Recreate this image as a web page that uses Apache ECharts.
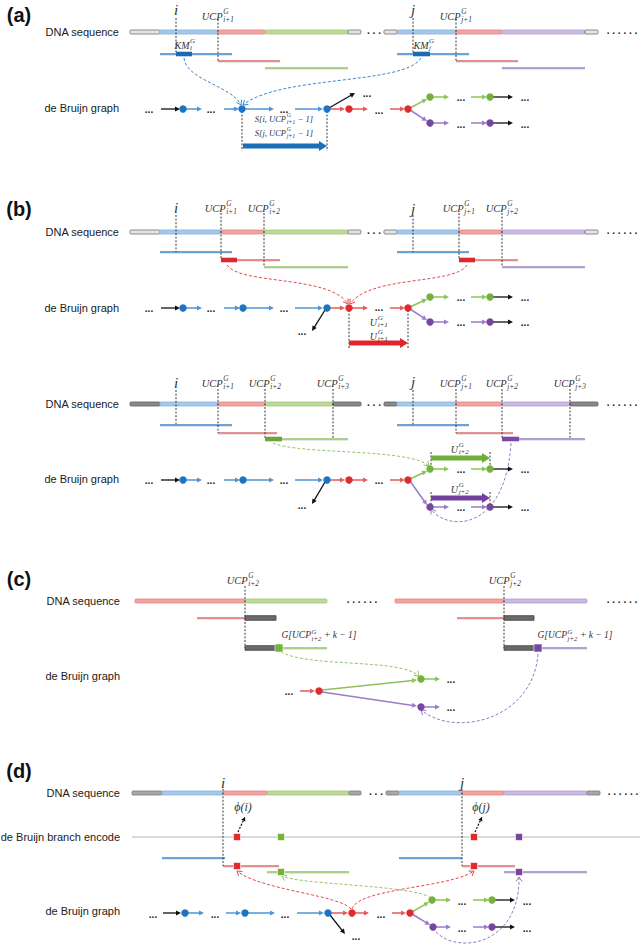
<!DOCTYPE html>
<html><head><meta charset="utf-8">
<script src="https://cdn.jsdelivr.net/npm/echarts@6/dist/echarts.min.js"></script>
<style>html,body{margin:0;padding:0;background:#fff}#c{width:643px;height:946px}</style>
</head><body><div id="c"></div><script>
// ================= DATA (diagram units) =================
const panelLabels = [['(a)',19,15],['(b)',19,209],['(c)',19,579],['(d)',19,771]];
const rowLabels = [
 ['DNA sequence',119,32],['de Bruijn graph',119,108],
 ['DNA sequence',119,232],['de Bruijn graph',119,308],
 ['DNA sequence',119,404],['de Bruijn graph',119,479],
 ['DNA sequence',120,601],['de Bruijn graph',120,676],
 ['DNA sequence',120,793],['de Bruijn branch encode',120,837],['de Bruijn graph',120,911]
];
const posLetters = [['i',176,10],['j',413,10],['i',176,208],['j',413,209],['i',176,383],['j',413,382],['i',223,783],['j',462,783]];
const ucpLabels = [
 ['UCP^{G}_{i+1}',218,16],['UCP^{G}_{j+1}',456,16],
 ['UCP^{G}_{i+1}',221,208],['UCP^{G}_{i+2}',264,208],['UCP^{G}_{j+1}',459,208],['UCP^{G}_{j+2}',502,208],
 ['UCP^{G}_{i+1}',218,383],['UCP^{G}_{i+2}',265,383],['UCP^{G}_{i+3}',333,383],['UCP^{G}_{j+1}',456,383],['UCP^{G}_{j+2}',502,383],['UCP^{G}_{j+3}',570,383],
 ['UCP^{G}_{i+2}',243,580],['UCP^{G}_{j+2}',505,580]
];
const mathLabels = [
 ['KM^{G}_{i}',185,45,10],['KM^{G}_{j}',424,45,10],
 ['S[i, UCP^{G}_{i+1} − 1]',284,119,8.5],['S[j, UCP^{G}_{j+1} − 1]',284,133,8.5],
 ['U^{G}_{i+1}',379,322,10],['U^{G}_{j+1}',379,336,10],
 ['U^{G}_{i+2}',460,449,10],['U^{G}_{j+2}',460,489,10],
 ['G[UCP^{G}_{i+2} + k − 1]',319,635,9.5],['G[UCP^{G}_{j+2} + k − 1]',575,635,9.5],
 ['ϕ(i)',243,807,12],['ϕ(j)',481,807,12]
];
const dnaSegs = [
 [130,160,32,'gray'],[160,218,32,'blue'],[218,265,32,'red'],[265,348,32,'green'],[348,361,32,'gray'],
 [384,397,32,'gray'],[397,456,32,'blue'],[456,502,32,'red'],[502,585,32,'purple'],[585,598,32,'gray'],
 [130,160,232,'gray'],[160,221,232,'blue'],[221,264,232,'red'],[264,348,232,'green'],[348,361,232,'gray'],
 [384,397,232,'gray'],[397,459,232,'blue'],[459,502,232,'red'],[502,585,232,'purple'],[585,598,232,'gray'],
 [130,160,404,'grayD'],[160,218,404,'blue'],[218,265,404,'red'],[265,333,404,'green'],[333,361,404,'grayD'],
 [384,397,404,'grayD'],[397,456,404,'blue'],[456,502,404,'red'],[502,570,404,'purple'],[570,598,404,'grayD'],
 [135,245,601,'red'],[245,327,601,'green'],[395,504,601,'red'],[504,587,601,'purple'],
 [132,162,793,'grayM'],[162,223,793,'blue'],[223,267,793,'red'],[267,349,793,'green'],[349,361,793,'grayM'],
 [386,399,793,'grayM'],[399,462,793,'blue'],[462,504,793,'red'],[504,587,793,'purple'],[587,600,793,'grayM']
];
const gapDots = [[374,33,'. . .'],[622,33,'. . . . . .'],[374,233,'. . .'],[622,233,'. . . . . .'],
 [374,405,'. . .'],[622,405,'. . . . . .'],[362,602,'. . . . . .'],[622,602,'. . . . . .'],
 [376,794,'. . .'],[623,794,'. . . . . .']];
const graphDots = [
 [149,112],[211,112],[284,112],[367,96],[379,113],[461,100],[525,100],[461,127],[525,127],
 [149,311],[211,311],[284,311],[302,334],[379,310],[461,300],[525,300],[461,325],[525,325],
 [149,483],[211,483],[284,483],[302,508],[379,483],[461,472],[525,472],[461,510],[525,510],
 [289,694],[451,682],[451,710],
 [153,917],[215,917],[285,917],[356,939],[381,917],[462,904],[527,904],[462,931],[527,931]
];
const reads = [
 [160,232,54,'blue'],[218,280,61,'red'],[265,348,68,'green'],[397,469,54,'blue'],[456,518,61,'red'],[502,585,68,'purple'],
 [160,232,252,'blue'],[221,280,260,'red'],[264,348,267,'green'],[397,469,252,'blue'],[459,518,260,'red'],[502,585,267,'purple'],
 [160,232,425,'blue'],[218,277,433,'red'],[265,348,439,'green'],[397,469,425,'blue'],[456,513,433,'red'],[502,585,439,'purple'],
 [197,245,618,'red'],[279,327,648,'green'],[457,504,618,'red'],[538,587,648,'purple'],
 [162,225,858,'blue'],[223,279,866,'red'],[267,349,872,'green'],[399,462,858,'blue'],[462,515,866,'red'],[504,587,872,'purple']
];
const kmerSegs = [
 [176,192,54,'blue'],[413,430,54,'blue'],
 [221,237,260,'red'],[459,475,260,'red'],
 [265,282,439,'green'],[502,519,439,'purple'],
 [245,276,618,'gray'],[245,277,648,'gray'],[504,534,618,'gray'],[504,538,648,'gray']
];
const guideLines = [
 [176,18,54],[218,19,61],[413,18,54],[456,19,61],[242,111,151],[327,111,151],
 [176,215,252],[221,213,260],[264,213,267],[413,215,252],[459,213,260],[502,213,267],[349,310,348],[408,310,348],
 [176,390,425],[218,389,433],[265,389,439],[333,389,439],[413,390,425],[456,389,433],[502,389,439],[570,389,439],
 [431,452,469],[490,452,469],[431,492,507],[490,492,507],
 [245,586,648],[504,586,648],
 [223,789,866],[462,789,866]
];
const edges = [
 [161,109,180,109,'black'],[186,109,202,109,'blue'],[224,109,239,109,'blue'],[245,109,274,109,'blue'],[295,109,323,109,'blue'],
 [329,108,355,93,'black'],[330,109,345,109,'red'],[352,109,368,109,'red'],[390,109,405,109,'red'],
 [410,108,427,99,'green'],[433,97,449,97,'green'],[471,97,487,97,'green'],[492,97,513,97,'black'],
 [410,110,427,121,'purple'],[433,123,449,123,'purple'],[471,123,487,123,'purple'],[492,123,513,123,'black'],
 [161,308,180,308,'black'],[186,308,202,308,'blue'],[224,308,240,308,'blue'],[246,308,274,308,'blue'],[295,308,323,308,'blue'],
 [325,310,312,331,'black'],[330,308,345,308,'red'],[352,308,368,308,'red'],[390,308,405,308,'red'],
 [410,307,427,299,'green'],[433,297,449,297,'green'],[471,297,487,297,'green'],[492,297,513,297,'black'],
 [410,309,427,320,'purple'],[433,322,449,322,'purple'],[471,322,487,322,'purple'],[492,322,513,322,'black'],
 [161,480,180,480,'black'],[186,480,202,480,'blue'],[224,480,240,480,'blue'],[246,480,274,480,'blue'],[295,480,323,480,'blue'],
 [325,482,312,504,'black'],[330,480,345,480,'red'],[352,480,368,480,'red'],[390,480,405,480,'red'],
 [410,479,427,471,'green'],[433,469,449,469,'green'],[471,469,487,469,'green'],[492,469,513,469,'black'],
 [410,481,427,505,'purple'],[433,507,449,507,'purple'],[471,507,487,507,'purple'],[492,507,513,507,'black'],
 [300,691,315,691,'red'],[322,690,417,680,'green'],[424,679,440,679,'green'],[322,692,417,706,'purple'],[424,707,440,707,'purple'],
 [163,913,181,913,'black'],[188,913,204,913,'blue'],[226,913,241,913,'blue'],[248,913,275,913,'blue'],[297,913,324,913,'blue'],
 [330,915,345,934,'black'],[331,913,348,913,'red'],[355,913,369,913,'red'],[392,913,406,913,'red'],
 [412,912,429,902,'green'],[435,900,451,900,'green'],[473,900,489,900,'green'],[494,900,515,900,'black'],
 [412,914,430,925,'purple'],[436,927,451,927,'purple'],[473,927,489,927,'purple'],[494,927,515,927,'black']
];
const nodes = [
 [183,109,'blue'],[242,109,'blue'],[327,109,'blue'],[349,109,'red'],[408,109,'red'],[430,97,'green'],[490,97,'green'],[430,123,'purple'],[490,123,'purple'],
 [183,308,'blue'],[243,308,'blue'],[327,308,'blue'],[349,308,'red'],[408,308,'red'],[430,297,'green'],[490,297,'green'],[430,322,'purple'],[490,322,'purple'],
 [183,480,'blue'],[243,480,'blue'],[327,480,'blue'],[349,480,'red'],[408,480,'red'],[430,469,'green'],[490,469,'green'],[430,507,'purple'],[490,507,'purple'],
 [319,691,'red'],[421,679,'green'],[421,707,'purple'],
 [185,913,'blue'],[245,913,'blue'],[328,913,'blue'],[352,913,'red'],[410,913,'red'],[432,900,'green'],[492,900,'green'],[433,927,'purple'],[492,927,'purple']
];
const pathArrows = [[243,327,146,'blue'],[349,408,343,'red'],[431,490,458,'green'],[431,490,498,'purple']];
const links = [
 [184,58,186,80,232,86,241,105,'blue'],[421,58,405,85,280,75,243,105,'blue'],
 [227,265,240,285,330,275,348,304,'red'],[467,265,455,285,370,275,350,304,'red'],
 [273,443,300,455,410,448,429,466,'green'],[511,443,505,535,445,530,431,509,'purple'],
 [281,652,310,668,400,658,419,676,'green'],[538,654,533,720,455,738,421,710,'purple'],
 [351,909,340,895,260,890,237,871,'red'],[352,909,358,888,450,888,474,871,'red'],
 [431,898,415,885,300,885,282,876,'green'],[433,928,450,955,520,950,519,877,'purple']
];
const squares = [
 [279,648,'green',8],[538,648,'purple',8],
 [237,837,'red',7],[281,837,'green',7],[474,837,'red',7],[519,837,'purple',7],
 [237,866,'red',7],[281,872,'green',7],[474,866,'red',7],[519,872,'purple',7]
];
const phiPointers = [[238,832,245,817],[475,832,482,817]];
const encodeTrack = [[132,640,837]];

// ================= STYLE =================
const SANS='"Liberation Sans", Arial, sans-serif';
const SERIF='"Liberation Serif","DejaVu Serif",serif';
const DNA_FILL={gray:'#e4e4e4',grayD:'#8a8a8a',grayM:'#a8a8a8',blue:'#a7c8ea',red:'#f0a4a4',green:'#bcd99a',purple:'#cbbbe0'};
const DNA_EDGE={gray:'#6e6e6e',grayD:'#5e5e5e',grayM:'#7a7a7a',blue:'#86b1dc',red:'#e68080',green:'#a3c87a',purple:'#b19dd0'};
const READ={blue:'#3f86cc',red:'#e26a6a',green:'#94c266',purple:'#9a80c6'};
const KMER={blue:'#1d6ab3',red:'#da2a2e',green:'#6ba53a',purple:'#7a4aa3',gray:'#6a6a6a'};
const NODE={blue:'#1c74c2',red:'#df2a2e',green:'#74b23a',purple:'#77479f'};
const EDGE={blue:'#4e94d6',red:'#e45a5c',green:'#8cc25a',purple:'#9a7cc8',black:'#111111'};
const LINK={blue:'#3b88d2',red:'#e2474c',green:'#93c463',purple:'#9678c4'};
const BIG={blue:'#1b6fba',red:'#e0262a',green:'#6fae3a',purple:'#74409f'};

const meas=document.createElement('canvas').getContext('2d');
function tw(t,f){meas.font=f;return meas.measureText(t).width;}
function txt(t,x,y,font,align,fill){return {type:'text',style:{text:t,x:x,y:y,font:font,align:align||'left',verticalAlign:'middle',fill:fill||'#2a2a2a'}};}
function mathParts(s){const re=/\^\{([^}]*)\}_\{([^}]*)\}/g;const out=[];let last=0,m;
 while((m=re.exec(s))){if(m.index>last)out.push({t:s.slice(last,m.index)});out.push({sup:m[1],sub:m[2]});last=re.lastIndex;}
 if(last<s.length)out.push({t:s.slice(last)});return out;}
function mathGroup(str,cx,cy,size,api){
 const p=api.coord([cx,cy]);const parts=mathParts(str);
 const fm='italic '+size+'px '+SERIF, fs='italic '+(size*0.7).toFixed(1)+'px '+SERIF;
 const w=parts.map(q=>q.t!=null?tw(q.t,fm):Math.max(tw(q.sup,fs),tw(q.sub,fs))+1);
 let x=p[0]-w.reduce((a,b)=>a+b,0)/2;const kids=[];
 parts.forEach((q,k)=>{
  if(q.t!=null)kids.push(txt(q.t,x,p[1],fm,'left','#333'));
  else{kids.push(txt(q.sup,x+0.6,p[1]-size*0.42,fs,'left','#333'));kids.push(txt(q.sub,x+0.6,p[1]+size*0.34,fs,'left','#333'));}
  x+=w[k];});
 return {type:'group',children:kids};
}
function head(tip,from,len,wid,color){
 const dx=tip[0]-from[0],dy=tip[1]-from[1],L=Math.hypot(dx,dy)||1,ux=dx/L,uy=dy/L;
 const bx=tip[0]-ux*len,by=tip[1]-uy*len;
 return {type:'polygon',shape:{points:[tip,[bx-uy*wid/2,by+ux*wid/2],[bx+uy*wid/2,by-ux*wid/2]]},style:{fill:color}};
}
function chevron(tip,from,len,wid,color){
 const dx=tip[0]-from[0],dy=tip[1]-from[1],L=Math.hypot(dx,dy)||1,ux=dx/L,uy=dy/L;
 const bx=tip[0]-ux*len,by=tip[1]-uy*len;
 return {type:'polyline',shape:{points:[[bx-uy*wid/2,by+ux*wid/2],tip,[bx+uy*wid/2,by-ux*wid/2]]},style:{stroke:color,lineWidth:1,fill:null}};
}
function cs(arr,xy,fn){return {type:'custom',coordinateSystem:'cartesian2d',clip:false,silent:true,animation:false,
 data:arr.map(xy),renderItem:(params,api)=>fn(arr[params.dataIndex],api)};}

const series=[
 cs(encodeTrack,d=>[d[0],d[2]],(d,api)=>{const a=api.coord([d[0],d[2]]),b=api.coord([d[1],d[2]]);
   return {type:'line',shape:{x1:a[0],y1:a[1],x2:b[0],y2:b[1]},style:{stroke:'#cfcfcf',lineWidth:1.3}};}),
 cs(dnaSegs,d=>[d[0],d[2]],(d,api)=>{const a=api.coord([d[0],d[2]]),b=api.coord([d[1],d[2]]);
   return {type:'rect',shape:{x:a[0],y:a[1]-2,width:b[0]-a[0],height:4,r:1},style:{fill:DNA_FILL[d[3]],stroke:DNA_EDGE[d[3]],lineWidth:0.8}};}),
 cs(reads,d=>[d[0],d[2]],(d,api)=>{const a=api.coord([d[0],d[2]]),b=api.coord([d[1],d[2]]);
   return {type:'group',children:[
    {type:'line',shape:{x1:a[0],y1:a[1]+1.2,x2:b[0],y2:b[1]+1.2},style:{stroke:'#e6e6e6',lineWidth:1.4}},
    {type:'line',shape:{x1:a[0],y1:a[1],x2:b[0],y2:b[1]},style:{stroke:READ[d[3]],lineWidth:1.5}}]};}),
 cs(guideLines,d=>[d[0],d[1]],(d,api)=>{const a=api.coord([d[0],d[1]]),b=api.coord([d[0],d[2]]);
   return {type:'line',shape:{x1:a[0],y1:a[1],x2:b[0],y2:b[1]},style:{stroke:'#222',lineWidth:0.9,lineDash:[2,1.6]}};}),
 cs(kmerSegs,d=>[d[0],d[2]],(d,api)=>{const a=api.coord([d[0],d[2]]),b=api.coord([d[1],d[2]]);
   return {type:'rect',shape:{x:a[0],y:a[1]-2.3,width:b[0]-a[0],height:4.6},style:{fill:KMER[d[3]],stroke:d[3]==='gray'?'#3f3f3f':null,lineWidth:0.8}};}),
 cs(links,d=>[d[0],d[1]],(d,api)=>{const p0=api.coord([d[0],d[1]]),c1=api.coord([d[2],d[3]]),c2=api.coord([d[4],d[5]]),p3=api.coord([d[6],d[7]]);
   const col=LINK[d[8]];
   return {type:'group',children:[
    {type:'bezierCurve',shape:{x1:p0[0],y1:p0[1],cpx1:c1[0],cpy1:c1[1],cpx2:c2[0],cpy2:c2[1],x2:p3[0],y2:p3[1]},style:{stroke:col,lineWidth:1,lineDash:[3,2],fill:null}},
    chevron(p3,c2,4.5,6,col)]};}),
 cs(phiPointers,d=>[d[0],d[1]],(d,api)=>{const a=api.coord([d[0],d[1]]),b=api.coord([d[2],d[3]]);
   return {type:'group',children:[{type:'line',shape:{x1:a[0],y1:a[1],x2:b[0],y2:b[1]},style:{stroke:'#111',lineWidth:1.2,lineDash:[2,1.5]}},head(b,a,4,4.5,'#111')]};}),
 cs(pathArrows,d=>[d[0],d[2]],(d,api)=>{const a=api.coord([d[0],d[2]]),b=api.coord([d[1],d[2]]);const y=a[1];
   return {type:'polygon',shape:{points:[[a[0],y-2.6],[b[0]-8,y-2.6],[b[0]-8,y-5],[b[0],y],[b[0]-8,y+5],[b[0]-8,y+2.6],[a[0],y+2.6]]},style:{fill:BIG[d[3]]}};}),
 cs(edges,d=>[d[0],d[1]],(d,api)=>{const a=api.coord([d[0],d[1]]),b=api.coord([d[2],d[3]]);const col=EDGE[d[4]];
   const dx=b[0]-a[0],dy=b[1]-a[1],L=Math.hypot(dx,dy);const e=[b[0]-dx/L*4,b[1]-dy/L*4];
   return {type:'group',children:[{type:'line',shape:{x1:a[0],y1:a[1],x2:e[0],y2:e[1]},style:{stroke:col,lineWidth:d[4]==='black'?1.3:1.5}},head(b,a,5,5,col)]};}),
 cs(nodes,d=>[d[0],d[1]],(d,api)=>{const p=api.coord([d[0],d[1]]);
   return {type:'circle',shape:{cx:p[0],cy:p[1],r:3.7},style:{fill:NODE[d[2]]}};}),
 cs(squares,d=>[d[0],d[1]],(d,api)=>{const p=api.coord([d[0],d[1]]);const s=d[3];
   return {type:'rect',shape:{x:p[0]-s/2,y:p[1]-s/2,width:s,height:s},style:{fill:NODE[d[2]],stroke:'#ffffff',lineWidth:0.6}};}),
 cs(gapDots,d=>[d[0],d[1]],(d,api)=>{const p=api.coord([d[0],d[1]]);return txt(d[2],p[0],p[1]-3,'bold 10px '+SANS,'center','#222');}),
 cs(graphDots,d=>[d[0],d[1]],(d,api)=>{const p=api.coord([d[0],d[1]]);return txt('...',p[0],p[1]-3,'bold 10px '+SANS,'center','#222');}),
 cs(panelLabels,d=>[d[1],d[2]],(d,api)=>{const p=api.coord([d[1],d[2]]);return txt(d[0],p[0],p[1],'bold 20px '+SANS,'center','#111');}),
 cs(rowLabels,d=>[d[1],d[2]],(d,api)=>{const p=api.coord([d[1],d[2]]);return txt(d[0],p[0],p[1],'11px '+SANS,'right','#1a1a1a');}),
 cs(posLetters,d=>[d[1],d[2]],(d,api)=>{const p=api.coord([d[1],d[2]]);return txt(d[0],p[0],p[1],'italic 15px '+SERIF,'center','#333');}),
 cs(ucpLabels,d=>[d[1],d[2]],(d,api)=>mathGroup(d[0],d[1],d[2],10.5,api)),
 cs(mathLabels,d=>[d[1],d[2]],(d,api)=>mathGroup(d[0],d[1],d[2],d[3],api))
];

const chart=echarts.init(document.getElementById('c'),null,{renderer:'svg'});
chart.setOption({
 animation:false,backgroundColor:'#ffffff',
 grid:{left:0,right:0,top:0,bottom:0},
 xAxis:{type:'value',min:0,max:643,show:false},
 yAxis:{type:'value',min:0,max:946,inverse:true,show:false},
 series:series
});
</script></body></html>
